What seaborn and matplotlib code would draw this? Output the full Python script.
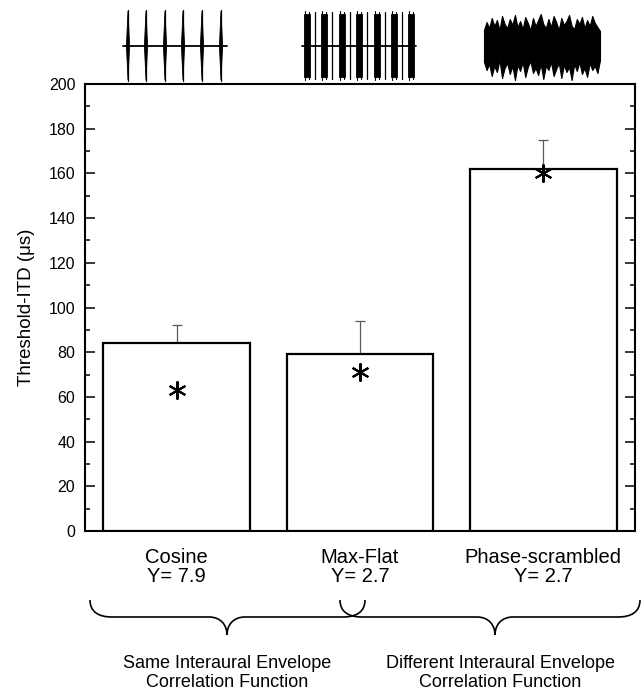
import numpy as np
import pandas as pd
import matplotlib
matplotlib.use("Agg")
import matplotlib.pyplot as plt
from matplotlib.path import Path
from matplotlib.patches import PathPatch
from matplotlib.ticker import MultipleLocator
import seaborn as sns

# ---------------- data ----------------
conditions = ["Cosine", "Max-Flat", "Phase-scrambled"]
gamma_labels = ["Y= 7.9", "Y= 2.7", "Y= 2.7"]
threshold_itd = [84, 79, 162]
err_upper = [8, 15, 13]
star_values = [63, 71, 160]
group_labels = ["Same Interaural Envelope\nCorrelation Function",
                "Different Interaural Envelope\nCorrelation Function"]
y_ticks = [0, 20, 40, 60, 80, 100, 120, 140, 160, 180, 200]

# waveform sketches (estimated, pixel units of the inset)
cosine_burst_x = [128, 146, 165, 183, 202, 221]
maxflat_burst_x = [307, 324, 342, 359, 377, 394, 411]
scr_upper = [30, 22, 28, 18, 26, 20, 30, 16, 24, 28, 19, 25, 15, 27, 21, 29, 17, 23, 30, 18,
             26, 20, 14, 24, 28, 19, 27, 16, 22, 30, 18, 25, 21, 15, 26, 29, 19, 24, 17, 28,
             20, 26, 16, 23, 27, 31]
scr_lower = [62, 70, 64, 76, 66, 72, 60, 78, 68, 63, 74, 66, 80, 65, 71, 62, 77, 67, 61, 73,
             68, 75, 64, 79, 66, 70, 62, 76, 69, 63, 78, 65, 72, 67, 80, 64, 71, 62, 74, 68,
             77, 63, 70, 66, 73, 60]

df = pd.DataFrame({"condition": conditions, "itd": threshold_itd})

# ---------------- figure ----------------
sns.set_style("ticks")
plt.rcParams["font.family"] = ["Liberation Sans", "DejaVu Sans"]
plt.rcParams.update({"text.color": "black", "axes.labelcolor": "black",
                     "xtick.color": "black", "ytick.color": "black",
                     "axes.edgecolor": "black"})

W, H = 641, 692
fig = plt.figure(figsize=(W / 100, H / 100), dpi=100)
ax = fig.add_axes([85 / W, 1 - 531 / H, 550 / W, 447 / H])

sns.barplot(data=df, x="condition", y="itd", color="white", saturation=1,
            edgecolor="black", linewidth=1.6, width=0.8, ax=ax, zorder=3)
ax.errorbar(range(len(conditions)), threshold_itd,
            yerr=[[0] * len(conditions), err_upper], fmt="none",
            ecolor="0.35", elinewidth=0.9, capsize=3.5, capthick=0.9, zorder=2)
ax.plot(range(len(conditions)), star_values, ls="none", marker=(6, 2, 0),
        markersize=13, markeredgewidth=1.5, color="black", zorder=4)

ax.set_xlim(-0.5, 2.5)
ax.set_ylim(0, 200)
ax.set_yticks(y_ticks)
ax.yaxis.set_minor_locator(MultipleLocator(10))
ax.tick_params(axis="y", which="both", direction="in", left=True, right=True,
               labelsize=11.5, pad=7, width=1.1)
ax.tick_params(axis="y", which="major", length=7)
ax.tick_params(axis="y", which="minor", length=3.5)
ax.tick_params(axis="x", length=0, pad=12, labelsize=14.5)
ax.set_xticks(range(len(conditions)))
ax.set_xticklabels([f"{c}\n{g}" for c, g in zip(conditions, gamma_labels)],
                   linespacing=1.0)
ax.set_xlabel("")
ax.set_ylabel("Threshold-ITD (\u03bcs)", fontsize=13.5, labelpad=10)
for s in ax.spines.values():
    s.set_linewidth(1.5)
    s.set_visible(True)
    s.set_color("black")

# ---------------- overlay (waveforms, braces, group text) ----------------
ov = fig.add_axes([0, 0, 1, 1], zorder=5)
ov.set_xlim(0, W)
ov.set_ylim(H, 0)
ov.axis("off")
ov.patch.set_alpha(0)

# cosine waveform
ov.plot([123, 227], [46, 46], color="black", lw=1.3)
for x in cosine_burst_x:
    ov.fill([x, x + 1.6, x, x - 1.6], [11, 46, 80, 46], color="black", lw=0.6)
    ov.plot([x, x], [10, 81], color="black", lw=0.9)

# max-flat waveform
ov.plot([302, 416], [46, 46], color="black", lw=1.3)
for i, x in enumerate(maxflat_burst_x):
    ov.fill([x - 3, x + 3, x + 3, x - 3], [14, 14, 77, 77], color="black", lw=0.6)
    ov.plot([x - 2, x - 2], [11, 80], color="black", lw=0.8)
    ov.plot([x + 2, x + 2], [12, 79], color="black", lw=0.8)
    if i < len(maxflat_burst_x) - 1:
        ov.plot([x + 8, x + 8], [12, 79], color="black", lw=0.9)

# phase-scrambled waveform
xs = np.linspace(484, 600, len(scr_upper))
ov.fill_between(xs, scr_upper, scr_lower, color="black", lw=0.8)


def brace(x0, x1, xt, y_end=600, y_line=617, y_tip=635, curl=22, tipw=18):
    verts = [(x0, y_end),
             (x0, y_line - 5), (x0 + curl * 0.4, y_line), (x0 + curl, y_line),
             (xt - tipw, y_line),
             (xt - tipw * 0.35, y_line), (xt, y_line + 8), (xt, y_tip),
             (xt, y_line + 8), (xt + tipw * 0.35, y_line), (xt + tipw, y_line),
             (x1 - curl, y_line),
             (x1 - curl * 0.4, y_line), (x1, y_line - 5), (x1, y_end)]
    codes = [Path.MOVETO,
             Path.CURVE4, Path.CURVE4, Path.CURVE4,
             Path.LINETO,
             Path.CURVE4, Path.CURVE4, Path.CURVE4,
             Path.CURVE4, Path.CURVE4, Path.CURVE4,
             Path.LINETO,
             Path.CURVE4, Path.CURVE4, Path.CURVE4]
    ov.add_patch(PathPatch(Path(verts, codes), fill=False, lw=1.2, color="black"))


brace(90, 365, 227)
brace(340, 640, 495)

ov.text(227, 673, group_labels[0], ha="center", va="center", fontsize=13,
        linespacing=1.1)
ov.text(500, 673, group_labels[1], ha="center", va="center", fontsize=13,
        linespacing=1.1)

fig.savefig("out.png", dpi=100)
